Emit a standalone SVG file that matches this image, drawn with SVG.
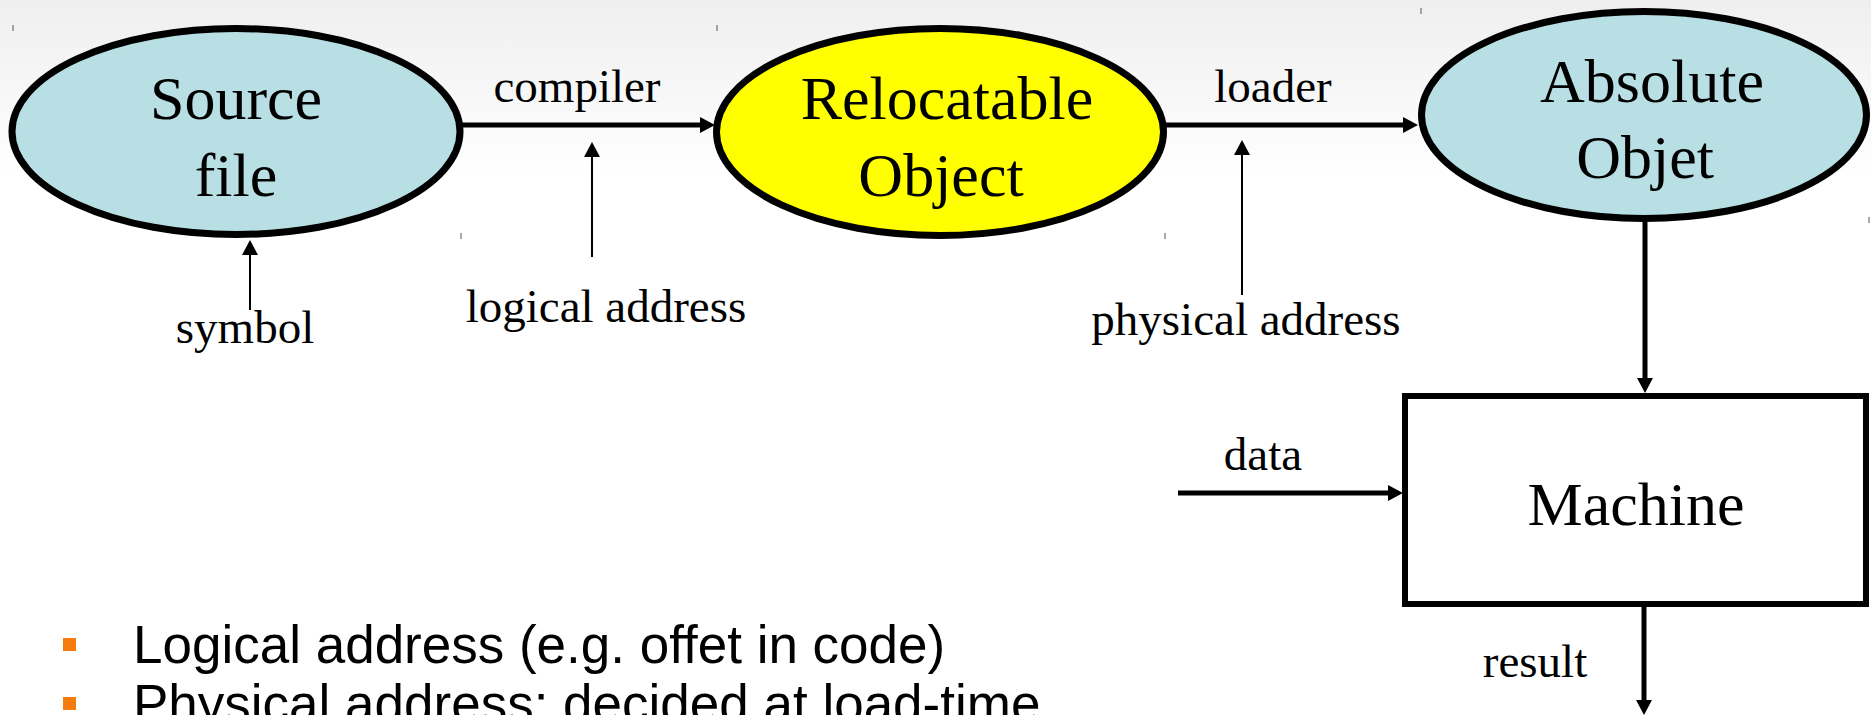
<svg xmlns="http://www.w3.org/2000/svg" width="1871" height="715" viewBox="0 0 1871 715">
  <defs>
    <linearGradient id="bg" x1="0" y1="0" x2="0" y2="1">
      <stop offset="0" stop-color="#efefef"/>
      <stop offset="1" stop-color="#ffffff"/>
    </linearGradient>
    <marker id="ah" markerUnits="userSpaceOnUse" markerWidth="16" markerHeight="16" refX="0" refY="8" orient="auto" overflow="visible">
      <path d="M0,0 L15,8 L0,16 Z" fill="#000"/>
    </marker>
    <style>
      .node { stroke: #000; stroke-width: 7; }
      .blue { fill: #b8dfe3; }
      .yellow { fill: #ffff00; }
      .box { fill: #fff; stroke: #000; stroke-width: 6; }
      .big { font-family: "Liberation Serif", "Times New Roman", serif; font-size: 62px; fill: #000; text-anchor: middle; }
      .lbl { font-family: "Liberation Serif", "Times New Roman", serif; font-size: 47px; fill: #000; text-anchor: middle; }
      .thick { stroke: #000; stroke-width: 5; fill: none; marker-end: url(#ah); }
      .thin { stroke: #000; stroke-width: 2; fill: none; marker-end: url(#ah); }
      .tick { stroke: #8a8a8a; stroke-width: 1.5; }
      .bullet { fill: #f47b0c; }
      .btxt { font-family: "Liberation Sans", Arial, sans-serif; font-size: 53px; fill: #000; }
    </style>
  </defs>

  <rect x="0" y="0" width="1871" height="715" fill="#fff"/>
  <rect x="0" y="0" width="1871" height="180" fill="url(#bg)"/>

  <g id="ticks">
    <line class="tick" x1="13" y1="25" x2="13" y2="31"/>
    <line class="tick" x1="717" y1="25" x2="717" y2="31"/>
    <line class="tick" x1="1421" y1="8" x2="1421" y2="14"/>
    <line class="tick" x1="461" y1="233" x2="461" y2="239"/>
    <line class="tick" x1="1165" y1="233" x2="1165" y2="239"/>
    <line class="tick" x1="1869" y1="217" x2="1869" y2="223"/>
  </g>

  <g id="source-file">
    <ellipse class="node blue" cx="236" cy="131.5" rx="224" ry="103"/>
    <text class="big" x="236" y="119">Source</text>
    <text class="big" x="236" y="196">file</text>
  </g>

  <g id="relocatable-object">
    <ellipse class="node yellow" cx="940" cy="132" rx="223.5" ry="103.5"/>
    <text class="big" x="947" y="119">Relocatable</text>
    <text class="big" x="941" y="196">Object</text>
  </g>

  <g id="absolute-objet">
    <ellipse class="node blue" cx="1644" cy="115" rx="222.5" ry="103.5"/>
    <text class="big" x="1652" y="102">Absolute</text>
    <text class="big" x="1645" y="178">Objet</text>
  </g>

  <g id="machine">
    <rect class="box" x="1405" y="396" width="461" height="208"/>
    <text class="big" x="1636" y="525">Machine</text>
  </g>

  <g id="connectors">
    <line class="thick" x1="462" y1="125" x2="700" y2="125"/>
    <line class="thick" x1="1166" y1="125" x2="1403" y2="125"/>
    <line class="thick" x1="1645" y1="222" x2="1645" y2="378"/>
    <line class="thick" x1="1178" y1="493" x2="1388" y2="493"/>
    <line class="thick" x1="1644" y1="607" x2="1644" y2="700"/>
    <line class="thin" x1="592" y1="257" x2="592" y2="157"/>
    <line class="thin" x1="1242" y1="295" x2="1242" y2="155"/>
    <line class="thin" x1="250" y1="310" x2="250" y2="255"/>
  </g>

  <g id="labels">
    <text class="lbl" x="577" y="102">compiler</text>
    <text class="lbl" x="1273" y="102">loader</text>
    <text class="lbl" x="606" y="322">logical address</text>
    <text class="lbl" x="1246" y="335">physical address</text>
    <text class="lbl" x="245" y="343">symbol</text>
    <text class="lbl" x="1263" y="470">data</text>
    <text class="lbl" x="1535" y="677">result</text>
  </g>

  <g id="bullets">
    <rect class="bullet" x="63" y="638" width="13" height="13"/>
    <text class="btxt" x="133" y="663">Logical address (e.g. offet in code)</text>
    <rect class="bullet" x="63" y="697" width="13" height="13"/>
    <text class="btxt" x="133" y="722">Physical address: decided at load-time</text>
  </g>
</svg>
